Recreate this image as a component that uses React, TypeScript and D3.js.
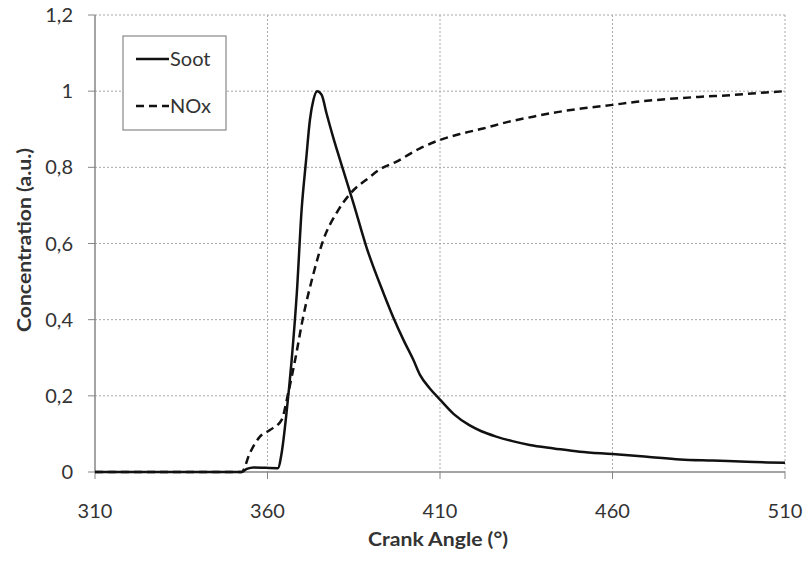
import React from "react";
import * as d3 from "d3";

const xTicks = [310, 360, 410, 460, 510];
const yTicks = [0, 0.2, 0.4, 0.6, 0.8, 1.0, 1.2];

const sootAngle = [310, 340, 352.5, 354, 356, 363, 364.1, 365.6, 367, 368.5, 369.9, 371.2, 372.3, 373.3, 374.4, 375.7, 377.1, 379, 381, 384.9, 388.7, 393.6, 396.5, 399.4, 402.3, 404.2, 407, 410, 414, 418.5, 422, 426.3, 431, 436, 443, 450.5, 460, 470, 479.6, 489, 498.9, 505, 510];
const sootValue = [0, 0, 0, 0.008, 0.012, 0.01, 0.05, 0.163, 0.294, 0.47, 0.69, 0.82, 0.925, 0.977, 1.0, 0.99, 0.942, 0.88, 0.82, 0.706, 0.59, 0.47, 0.405, 0.347, 0.294, 0.255, 0.22, 0.19, 0.152, 0.123, 0.107, 0.093, 0.081, 0.071, 0.062, 0.053, 0.047, 0.04, 0.033, 0.03, 0.027, 0.025, 0.024];

const noxAngle = [310, 340, 352.5, 354.9, 357.8, 360.7, 364.1, 366, 368, 370.4, 373.3, 376.2, 380, 383.9, 389.7, 392.6, 397.4, 404.2, 410, 416, 422.5, 430, 437, 444, 451.5, 460, 467, 475.6, 485, 494.9, 502, 510];
const noxValue = [0, 0, 0, 0.05, 0.093, 0.11, 0.137, 0.207, 0.294, 0.41, 0.52, 0.61, 0.68, 0.73, 0.775, 0.795, 0.815, 0.85, 0.872, 0.888, 0.902, 0.92, 0.933, 0.945, 0.955, 0.964, 0.972, 0.979, 0.985, 0.99, 0.995, 1.0];

const W = 806;
const H = 563;
const left = 95;
const right = 785;
const top = 15;
const bottom = 472;

export default function App() {
  const x = d3.scaleLinear().domain([310, 510]).range([left, right]);
  const y = d3.scaleLinear().domain([0, 1.2]).range([bottom, top]);
  const line = d3
    .line<[number, number]>()
    .x((d) => x(d[0]))
    .y((d) => y(d[1]))
    .curve(d3.curveMonotoneX);
  const soot = line(sootAngle.map((a, i) => [a, sootValue[i]] as [number, number])) || "";
  const nox = line(noxAngle.map((a, i) => [a, noxValue[i]] as [number, number])) || "";
  const font = "Lato, 'Open Sans', sans-serif";
  const fmt = (v: number) => (v === 0 ? "0" : v === 1 ? "1" : v.toFixed(1).replace(".", ","));
  const grid = "#a8a8a8";

  return (
    <svg
      width={W}
      height={H}
      style={{ position: "absolute", left: 0, top: 0, background: "#fff" }}
      fontFamily={font}
    >
      <rect x={0} y={0} width={W} height={H} fill="#fff" />
      {yTicks.filter((t) => t > 0).map((t) => (
        <line key={"hy" + t} x1={left} x2={right} y1={y(t)} y2={y(t)} stroke={grid} strokeWidth={1} strokeDasharray="2,2" />
      ))}
      {xTicks.filter((t) => t > 310).map((t) => (
        <line key={"vx" + t} x1={x(t)} x2={x(t)} y1={top} y2={bottom} stroke={grid} strokeWidth={1} strokeDasharray="2,2" />
      ))}
      <line x1={left} x2={left} y1={top} y2={bottom} stroke="#868686" strokeWidth={1.5} />
      <line x1={left} x2={right} y1={bottom} y2={bottom} stroke="#868686" strokeWidth={1.5} />
      {yTicks.map((t) => (
        <g key={"yt" + t}>
          <line x1={left - 7} x2={left} y1={y(t)} y2={y(t)} stroke="#868686" strokeWidth={1} />
          <text x={73} y={y(t)} dy="0.35em" textAnchor="end" fontSize={20} fill="#333">
            {fmt(t)}
          </text>
        </g>
      ))}
      {xTicks.map((t) => (
        <g key={"xt" + t}>
          <line x1={x(t)} x2={x(t)} y1={bottom} y2={bottom + 7} stroke="#868686" strokeWidth={1} />
          <text x={x(t)} y={518} textAnchor="middle" fontSize={20} fill="#333">
            {t}
          </text>
        </g>
      ))}
      <path d={nox} fill="none" stroke="#111" strokeWidth={2.5} strokeDasharray="8,5" />
      <path d={soot} fill="none" stroke="#111" strokeWidth={2.5} />
      <text x={438} y={546} textAnchor="middle" fontSize={19} fontWeight="bold" fill="#333" textLength={140} lengthAdjust="spacingAndGlyphs">
        Crank Angle (°)
      </text>
      <text
        transform={`translate(31,240) rotate(-90)`}
        textAnchor="middle"
        fontSize={19}
        fontWeight="bold"
        fill="#333"
        textLength={184}
        lengthAdjust="spacingAndGlyphs"
      >
        Concentration (a.u.)
      </text>
      <rect x={123} y={36} width={103} height={94} fill="#fff" stroke="#888" strokeWidth={1.2} />
      <line x1={136} x2={169} y1={59} y2={59} stroke="#111" strokeWidth={2.5} />
      <text x={170} y={59} dy="0.35em" fontSize={20} fill="#333">Soot</text>
      <line x1={136} x2={169} y1={106} y2={106} stroke="#111" strokeWidth={2.5} strokeDasharray="8,5" />
      <text x={170} y={106} dy="0.35em" fontSize={20} fill="#333">NOx</text>
    </svg>
  );
}
